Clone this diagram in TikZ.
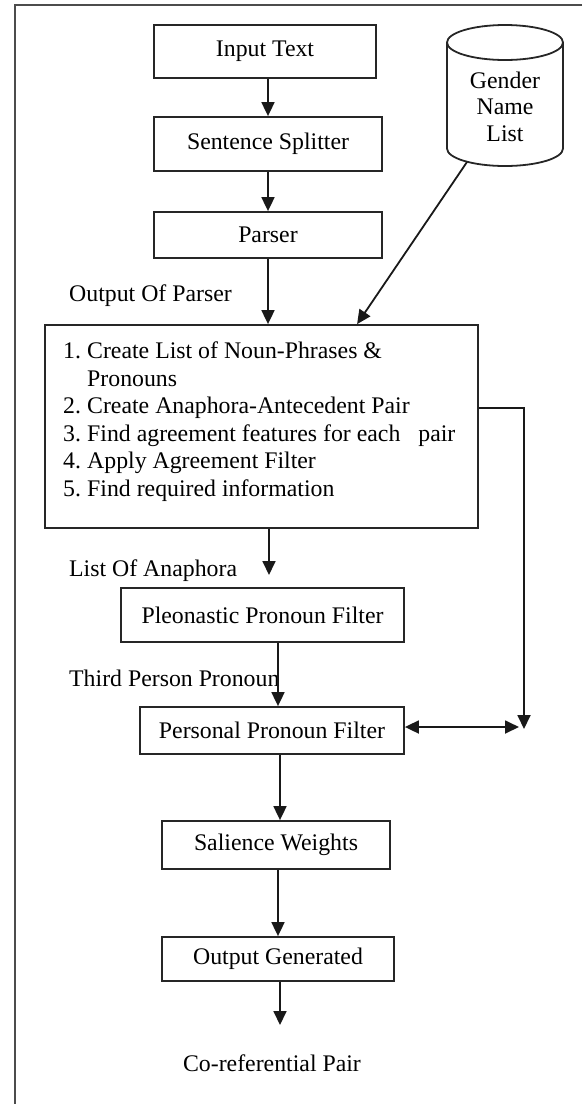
\documentclass[tikz,border=0pt]{standalone}
\usepackage{fontspec}
\setmainfont{Liberation Serif}
\usetikzlibrary{arrows.meta,calc}
\begin{document}
\begin{tikzpicture}[x=1pt,y=-1pt,
  every node/.style={font=\fontsize{23.8}{27.5}\selectfont, text=black},
  box/.style={draw=black!85, line width=1.8pt, inner sep=0pt},
  arr/.style={line width=1.8pt, draw=black!90, -{Triangle[length=14pt,width=13pt]}},
  dbl/.style={line width=1.8pt, draw=black!90,
    {Triangle[length=14pt,width=13pt]}-{Triangle[length=14pt,width=13pt]}},
  lbl/.style={inner sep=0pt},
  dbline/.style={line width=1.8pt, draw=black!85}]
\useasboundingbox (0,0) rectangle (582,1104);

% outer frame (top and left edges)
\draw[line width=2.2pt, black!70] (582,5) -- (15,5) -- (15,1104);

% processing boxes
\node[box, minimum width=222pt, minimum height=53pt] (input)  at (265,51.5)  {Input Text};
\node[box, minimum width=228pt, minimum height=54pt] (split)  at (268,144)   {Sentence Splitter};
\node[box, minimum width=228pt, minimum height=46pt] (parser) at (268,235)   {Parser};
\node[box, minimum width=433pt, minimum height=203pt] (proc)  at (261.5,426.5) {};
\node[box, minimum width=283pt, minimum height=54pt] (pleo)   at (262.5,615) {Pleonastic Pronoun Filter};
\node[box, minimum width=264pt, minimum height=47pt] (pers)   at (272,730.5) {Personal Pronoun Filter};
\node[box, minimum width=228pt, minimum height=48pt] (sal)    at (276,845)   {Salience Weights};
\node[box, minimum width=232pt, minimum height=44pt] (outg)   at (278,959)   {Output Generated};

% steps listed inside the main processing box
\node[lbl, anchor=north west, align=left] (steps) at (63,341.7) {%
\makebox[24pt][l]{1.}Create List of Noun-Phrases \&\\
\hspace*{24pt}Pronouns\\
\makebox[24pt][l]{2.}Create Anaphora-Antecedent Pair\\
\makebox[24pt][l]{3.}Find agreement features for each\hspace{12pt} pair\\
\makebox[24pt][l]{4.}Apply Agreement Filter\\
\makebox[24pt][l]{5.}Find required information};

% gender name list database
\draw[dbline] (505,42.5) ellipse [x radius=58pt, y radius=17.5pt];
\draw[dbline] (447,42.5) -- (447,148.5)
  arc[start angle=180, end angle=360, x radius=58pt, y radius=17.5pt] -- (563,42.5);
\node[lbl, align=center, font=\fontsize{23.8}{26.5}\selectfont] (gnl) at (505,106.5) {Gender\\Name\\List};
\coordinate (gbot) at (467,162);

% edge labels
\node[lbl, anchor=base west] (lop) at (69,301) {Output Of Parser};
\node[lbl, anchor=base west] (loa) at (69,576) {List Of Anaphora};
\node[lbl, anchor=base west] (ltp) at (69,686) {Third Person Pronoun};
\node[lbl, anchor=base] (cop) at (272,1071) {Co-referential Pair};

% free ends
\coordinate (la) at (269,575);
\coordinate (fb) at (524,729);
\coordinate (fbl) at (519,727);
\coordinate (oend) at (280,1025);

% connectors
\draw[arr] (split.north |- input.south) -- (split.north);
\draw[arr] (split.south) -- (parser.north);
\draw[arr] (parser.south) -- (parser.south |- proc.north);
\draw[arr] (gbot) -- ([xshift=313pt]proc.north west);
\draw[arr] (la |- proc.south) -- (la);
\draw[arr] ([xshift=15.5pt]pleo.south) -- ([xshift=15.5pt]pleo.south |- pers.north);
\draw[arr] ([xshift=8pt]pers.south) -- ([xshift=8pt]pers.south |- sal.north);
\draw[arr] ([xshift=2pt]sal.south) -- ([xshift=2pt]sal.south |- outg.north);
\draw[arr] (oend |- outg.south) -- (oend);
\draw[arr] ([yshift=18.5pt]proc.east) -| (fb);
\draw[dbl] ([yshift=3.5pt]pers.east) -- (fbl);
\end{tikzpicture}
\end{document}
